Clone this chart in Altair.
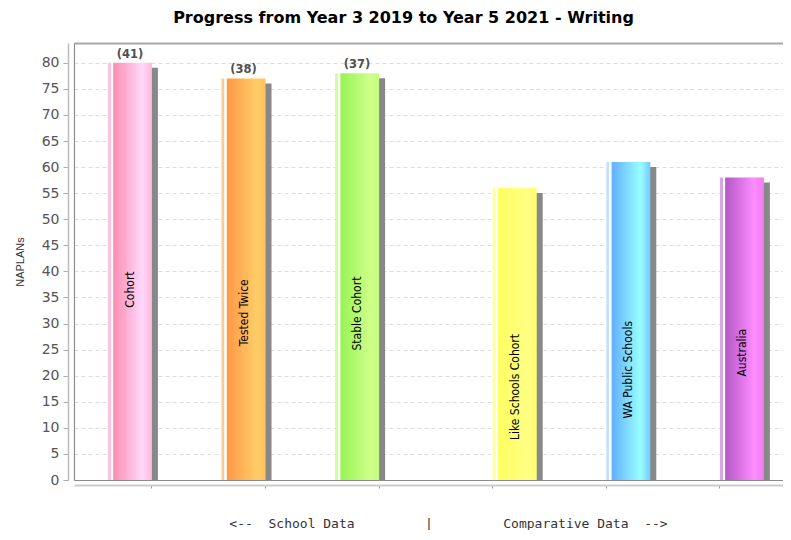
import altair as alt
import pandas as pd

categories = ["Cohort", "Tested Twice", "Stable Cohort",
              "Like Schools Cohort", "WA Public Schools", "Australia"]
values = [80, 77, 78, 56, 61, 58]
counts = ["(41)", "(38)", "(37)", "", "", ""]
groups = ["School", "School", "School", "Comparative", "Comparative", "Comparative"]
group_order = ["School", "Comparative"]

edge_colors = ["#ffc2da", "#ffc896", "#cdff9e", "#ffff9a", "#c2e0ff", "#d8a6e8"]
base_colors = ["#ff8db3", "#ff9844", "#98f454", "#ffff62", "#62b0ff", "#b458c8"]
high_colors = ["#ffd8fb", "#ffcc68", "#ccff88", "#ffff82", "#98ffff", "#ff8cff"]
end_colors = ["#ffb8dc", "#ffc25e", "#c4ff80", "#ffff74", "#74c8ff", "#f07cf0"]

df = pd.DataFrame({
    "category": categories,
    "value": values,
    "count": counts,
    "group": groups,
})

x_scale = alt.Scale(domain=categories, paddingInner=0.225, paddingOuter=0.2333, align=0.64)
off_band = alt.Scale(type="band", domain=group_order, paddingInner=0, paddingOuter=0)
off_point = alt.Scale(type="point", domain=group_order, padding=0.5)
y_scale = alt.Scale(domain=[0, 83.8], nice=False, zero=True)

# main axes
x_axis_main = alt.Axis(
    orient="bottom", labels=False, grid=False, domain=True, domainColor="#cccccc",
    domainWidth=2, ticks=True, tickSize=3, tickColor="#999999", offset=5,
    title="<--\u00a0\u00a0School\u00a0Data\u00a0\u00a0\u00a0\u00a0\u00a0\u00a0\u00a0\u00a0\u00a0|\u00a0\u00a0\u00a0\u00a0\u00a0\u00a0\u00a0\u00a0\u00a0Comparative\u00a0Data\u00a0\u00a0-->",
    titleFont="DejaVu Sans Mono", titleFontSize=13, titleFontWeight="normal",
    titleColor="#333333", titleX=374, titleY=38, titleBaseline="middle", titleAlign="center",
)
y_axis_main = alt.Axis(
    orient="left", values=list(range(0, 81, 5)), grid=True, gridColor="#dddddd",
    gridDash=[4, 3], domain=True, domainColor="#bbbbbb", domainWidth=1.5, offset=6,
    ticks=True, tickSize=5, tickColor="#aaaaaa", labelPadding=4,
    labelFont="DejaVu Sans", labelFontSize=14, labelColor="#555555",
    title="NAPLANs", titleFont="Liberation Sans", titleFontSize=11,
    titleFontWeight="normal", titleColor="#333333", titlePadding=16,
)
# frame axes (plot border on top, left and bottom)
x_axis_top = alt.Axis(orient="top", labels=False, ticks=False, grid=False, domain=True,
                      domainColor="#a8a8a8", domainWidth=2, title=None, offset=0)
x_axis_bottom = alt.Axis(orient="bottom", labels=False, ticks=False, grid=False, domain=True,
                         domainColor="#8c8c8c", domainWidth=1.2, title=None, offset=0)
y_axis_left = alt.Axis(orient="left", labels=False, ticks=False, grid=False, domain=True,
                       domainColor="#8c8c8c", domainWidth=1.2, title=None, offset=0)

base = alt.Chart(df)

shadow = base.mark_bar(color="#888888", yOffset=5, clip=True).encode(
    x=alt.X("category:N", scale=x_scale, axis=x_axis_main, sort=categories),
    xOffset=alt.XOffset("group:N", scale=alt.Scale(type="band", domain=group_order, range=[6, 94])),
    y=alt.Y("value:Q", scale=y_scale, axis=y_axis_main),
)

bar_layers = []
for i, c in enumerate(categories):
    grad = alt.Gradient(
        gradient="linear", x1=0, x2=1, y1=0, y2=0,
        stops=[
            alt.GradientStop(color=edge_colors[i], offset=0),
            alt.GradientStop(color=edge_colors[i], offset=0.06),
            alt.GradientStop(color="#ffffff", offset=0.07),
            alt.GradientStop(color="#ffffff", offset=0.11),
            alt.GradientStop(color=base_colors[i], offset=0.13),
            alt.GradientStop(color=high_colors[i], offset=0.78),
            alt.GradientStop(color=end_colors[i], offset=1),
        ],
    )
    if i == 0:
        xa, ya = x_axis_top, y_axis_left
    elif i == 1:
        xa, ya = x_axis_bottom, None
    else:
        xa, ya = None, None
    bar_layers.append(
        base.transform_filter(alt.datum.category == c).mark_bar(fill=grad).encode(
            x=alt.X("category:N", scale=x_scale, axis=xa, sort=categories),
            xOffset=alt.XOffset("group:N", scale=off_band),
            y=alt.Y("value:Q", scale=y_scale, axis=ya),
        )
    )

names = base.transform_calculate(half="datum.value / 2").mark_text(
    angle=270, align="right", baseline="middle",
    font="Liberation Sans Narrow, DejaVu Sans Condensed", fontSize=12, color="#000000",
).encode(
    x=alt.X("category:N", scale=x_scale, axis=None, sort=categories),
    xOffset=alt.XOffset("group:N", scale=off_point),
    y=alt.Y("half:Q", scale=y_scale, axis=None),
    text="category:N",
)

count_text = base.mark_text(
    baseline="bottom", dy=-3, font="DejaVu Sans", fontSize=11.5,
    fontWeight="bold", color="#505050",
).encode(
    x=alt.X("category:N", scale=x_scale, axis=None, sort=categories),
    xOffset=alt.XOffset("group:N", scale=off_point),
    y=alt.Y("value:Q", scale=y_scale, axis=None),
    text="count:N",
)

chart = alt.layer(shadow, *bar_layers, names, count_text).resolve_scale(
    xOffset="independent"
).resolve_axis(
    x="independent", y="independent"
).properties(
    width=709,
    height=437,
    padding={"left": 66, "top": 35, "right": 0, "bottom": 50},
    autosize=alt.AutoSizeParams(type="none"),
    title=alt.TitleParams(
        "Progress from Year 3 2019 to Year 5 2021 - Writing",
        font="DejaVu Sans", fontSize=16, fontWeight="bold", color="#000000",
        offset=17, dx=-25,
    ),
).configure_view(
    stroke=None
).configure(background="white")

chart.save("out.html", embed_options={"renderer": "svg", "actions": False})
